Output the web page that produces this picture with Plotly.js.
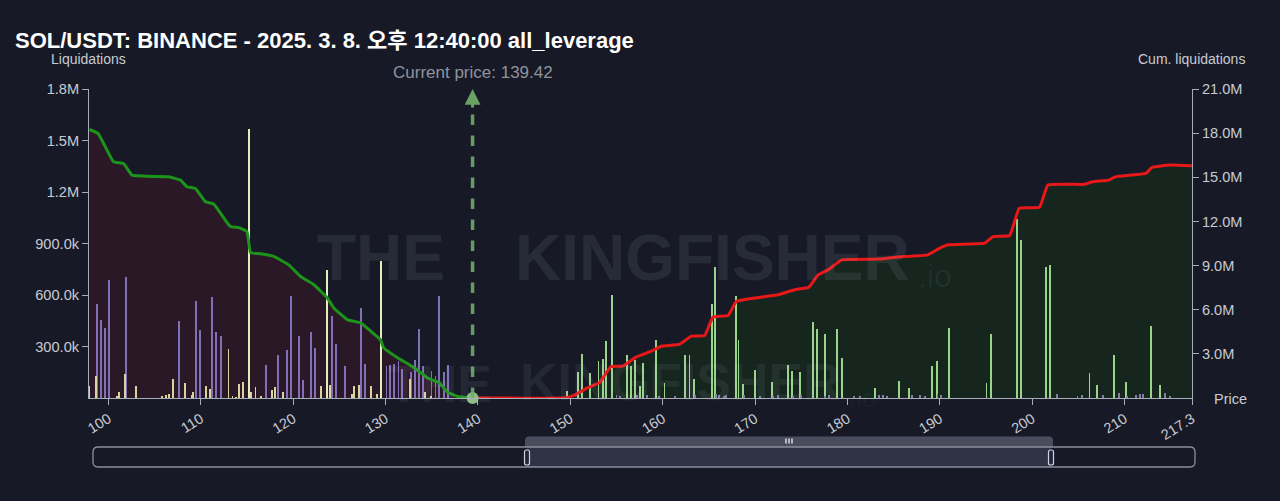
<!DOCTYPE html>
<html>
<head>
<meta charset="utf-8">
<script src="https://cdn.plot.ly/plotly-3.0.1.min.js"></script>
<style>
  html, body { margin: 0; padding: 0; background: #171a26; }
  #chart { width: 1280px; height: 501px; }
</style>
</head>
<body>
<div id="chart"></div>
<script>
// ---------------- DATA ----------------
const chartTitle = "SOL/USDT: BINANCE - 2025. 3. 8. 오후 12:40:00 all_leverage";
const currentPrice = 139.42;

// x-axis ticks
const xTickVals = [100, 110, 120, 130, 140, 150, 160, 170, 180, 190, 200, 210, 217.3];
const xTickText = ["100", "110", "120", "130", "140", "150", "160", "170", "180", "190", "200", "210", "217.3"];
// left axis ticks (Liquidations)
const yLeftTickVals = [300000, 600000, 900000, 1200000, 1500000, 1800000];
const yLeftTickText = ["300.0k", "600.0k", "900.0k", "1.2M", "1.5M", "1.8M"];
// right axis ticks (Cum. liquidations)
const yRightTickVals = [3e6, 6e6, 9e6, 12e6, 15e6, 18e6, 21e6];
const yRightTickText = ["3.0M", "6.0M", "9.0M", "12.0M", "15.0M", "18.0M", "21.0M"];

// Liquidation bars below price (purple)
const purplePrice = [98.75, 99.22, 99.65, 100.09, 101.9, 107.68, 109.49, 109.92, 111.26, 111.69, 112.16, 117.1, 118.4, 119.3, 119.8, 120.6, 121.1, 121.96, 122.4, 124.24, 124.67, 125.57, 127.38, 127.82, 130.1, 130.5, 130.96, 131.4, 131.8, 132.73, 133.16, 133.6, 134.07, 134.98, 135.4, 135.8, 136.3, 136.75];
const purpleLiq = [548e3, 452e3, 405e3, 689e3, 705e3, 446e3, 567e3, 398e3, 588e3, 386e3, 363e3, 192e3, 252e3, 277e3, 592e3, 363e3, 107e3, 382e3, 291e3, 475e3, 312e3, 184e3, 524e3, 200e3, 184e3, 194e3, 198e3, 213e3, 169e3, 149e3, 223e3, 404e3, 188e3, 155e3, 126e3, 592e3, 149e3, 194e3];

// Liquidation bars below price (yellow)
const yellowPrice = [97.95, 98.7, 100.9, 101.17, 101.8, 102.98, 105.8, 106.27, 106.56, 107.0, 108.33, 109.0, 109.2, 110.57, 111.0, 113.0, 113.43, 113.8, 114.14, 114.57, 115.45, 115.92, 116.5, 117.7, 118.07, 118.9, 123.05, 123.95, 126.4, 126.6, 127.1, 128.4, 129.1, 132.66, 134.25, 134.9];
const yellowLiq = [72e3, 126e3, 10e3, 37e3, 140e3, 72e3, 14e3, 20e3, 26e3, 112e3, 87e3, 17e3, 37e3, 68e3, 52e3, 285e3, 14e3, 6e3, 83e3, 93e3, 37e3, 64e3, 12e3, 48e3, 62e3, 35e3, 68e3, 76e3, 25e3, 72e3, 76e3, 72e3, 21e3, 112e3, 35e3, 14e3];

// Liquidation bars below price (pale, tall)
const palePrice = [115.2, 123.7, 129.55];
const paleLiq = [1565e3, 747e3, 796e3];

// Liquidation bars above price (green)
const greenPrice = [149.65, 150.8, 151.25, 152.15, 153.05, 153.5, 153.9, 154.5, 156.1, 156.6, 157.0, 157.5, 157.9, 159.3, 160.2, 162.45, 162.9, 163.35, 165.3, 165.7, 167.97, 168.2, 168.7, 170.0, 171.8, 173.6, 174.0, 174.9, 176.3, 176.7, 177.6, 178.9, 179.4, 183.0, 185.6, 186.7, 189.2, 189.7, 191.0, 195.06, 195.5, 198.35, 198.8, 201.46, 201.9, 206.2, 207.06, 208.87, 210.2, 212.9, 213.8];
const greenLiq = [42e3, 149e3, 256e3, 146e3, 213e3, 227e3, 330e3, 598e3, 252e3, 184e3, 223e3, 72e3, 204e3, 340e3, 87e3, 248e3, 252e3, 112e3, 548e3, 763e3, 592e3, 336e3, 83e3, 161e3, 91e3, 194e3, 155e3, 151e3, 440e3, 404e3, 373e3, 404e3, 233e3, 58e3, 101e3, 56e3, 188e3, 217e3, 408e3, 87e3, 375e3, 1040e3, 922e3, 763e3, 775e3, 146e3, 73e3, 248e3, 91e3, 421e3, 73e3];

// Small liquidation bars above price (grey-violet)
const greyPrice = [155.0, 155.35, 157.2, 158.3, 159.6, 161.3, 163.5, 165.8, 166.1, 166.6, 166.9, 168.8, 170.5, 171.9, 172.5, 174.1, 175.0, 177.6, 178.0, 180.7, 181.4, 183.4, 183.85, 184.3, 187.0, 187.9, 188.4, 189.75, 190.1, 202.7, 204.9, 205.4, 207.7, 209.4, 210.3, 211.2, 211.7, 212.0, 214.4, 214.9];
const greyLiq = [15e3, 12e3, 18e3, 20e3, 14e3, 12e3, 16e3, 22e3, 18e3, 14e3, 20e3, 16e3, 12e3, 14e3, 18e3, 12e3, 16e3, 14e3, 20e3, 12e3, 10e3, 19e3, 15e3, 12e3, 18e3, 15e3, 12e3, 25e3, 16e3, 22e3, 12e3, 18e3, 15e3, 32e3, 14e3, 20e3, 25e3, 25e3, 29e3, 14e3];

// Cumulative liquidations below price (green line)
const cumLongPrice = [97.95, 98.9, 100.55, 101.64, 102.55, 106.52, 107.8, 108.5, 109.4, 110.5, 111.4, 113.2, 114.1, 115.0, 115.38, 116.46, 117.9, 119.53, 120.8, 122.25, 123.7, 124.4, 125.85, 127.3, 128.4, 129.45, 129.8, 131.3, 133.1, 134.5, 135.8, 136.7, 137.8, 139.42];
const cumLong = [18.25e6, 17.97e6, 16.05e6, 15.94e6, 15.15e6, 15.03e6, 14.81e6, 14.36e6, 14.25e6, 13.34e6, 13.18e6, 11.65e6, 11.58e6, 11.31e6, 9.89e6, 9.8e6, 9.62e6, 9.05e6, 8.26e6, 7.7e6, 6.8e6, 6.12e6, 5.33e6, 5.1e6, 4.54e6, 3.97e6, 3.41e6, 2.74e6, 2.06e6, 1.38e6, 1.04e6, 0.41e6, 0.1e6, 0];

// Cumulative liquidations above price (red line)
const cumShortPrice = [139.42, 149.5, 150.45, 151.9, 153.15, 154.4, 155.7, 157.1, 158.76, 159.85, 161.8, 163.1, 164.55, 165.45, 167.08, 167.98, 169.97, 172.5, 174.3, 175.8, 176.85, 177.9, 179.4, 183.5, 185.4, 188.7, 189.8, 190.9, 194.85, 195.76, 197.56, 198.6, 200.8, 201.7, 205.66, 206.55, 208.3, 209.0, 212.3, 212.97, 214.95, 217.3];
const cumShort = [0, 0.02e6, 0.2e6, 0.7e6, 1.04e6, 2.13e6, 2.17e6, 2.78e6, 3.18e6, 3.52e6, 3.64e6, 4.2e6, 4.25e6, 5.51e6, 5.6e6, 6.57e6, 6.8e6, 7.02e6, 7.36e6, 7.52e6, 8.38e6, 8.71e6, 9.39e6, 9.44e6, 9.58e6, 9.73e6, 10.12e6, 10.41e6, 10.52e6, 10.97e6, 11.04e6, 12.9e6, 12.96e6, 14.47e6, 14.52e6, 14.7e6, 14.81e6, 15.03e6, 15.26e6, 15.67e6, 15.83e6, 15.78e6];

// ---------------- LAYOUT HELPERS ----------------
const W = 1280, H = 501;
const M = { l: 89, r: 88, t: 89, b: 103 };
const PW = W - M.l - M.r, PH = H - M.t - M.b;
const PX = px => (px - M.l) / PW;          // pixel -> paper x
const PY = py => (H - M.b - py) / PH;      // pixel -> paper y

function roundRectPath(x0, y0, x1, y1, r, topOnly) {
  const rx = r / PW, ry = r / PH;
  const a = PX(x0), b = PX(x1), top = PY(y0), bot = PY(y1);
  if (topOnly) {
    return `M${a},${bot} L${a},${top - ry} Q${a},${top} ${a + rx},${top} L${b - rx},${top} Q${b},${top} ${b},${top - ry} L${b},${bot} Z`;
  }
  return `M${a + rx},${top} L${b - rx},${top} Q${b},${top} ${b},${top - ry} L${b},${bot + ry} Q${b},${bot} ${b - rx},${bot} L${a + rx},${bot} Q${a},${bot} ${a},${bot + ry} L${a},${top - ry} Q${a},${top} ${a + rx},${top} Z`;
}

const FONT = "Liberation Sans, Arial, Noto Sans CJK KR, sans-serif";
const WMFONT = "Liberation Sans, Arial, sans-serif";
const TXT = "#c8cbd3";
const AXL = "#a9adb8";
const BW = 0.2;

// ---------------- TRACES ----------------
const traces = [
  // fills (primary right axis, drawn first)
  { type: "scatter", mode: "none", x: cumLongPrice, y: cumLong, fill: "tozeroy", fillcolor: "#2a1826", xaxis: "x", yaxis: "y", hoverinfo: "skip" },
  { type: "scatter", mode: "none", x: cumShortPrice, y: cumShort, fill: "tozeroy", fillcolor: "#16261f", xaxis: "x", yaxis: "y", hoverinfo: "skip" },
  // bars (left axis)
  { type: "bar", x: purplePrice, y: purpleLiq, width: BW, marker: { color: "#8070b8", line: { width: 0 } }, xaxis: "x", yaxis: "y2" },
  { type: "bar", x: yellowPrice, y: yellowLiq, width: BW, marker: { color: "#d9d3a0", line: { width: 0 } }, xaxis: "x", yaxis: "y2" },
  { type: "bar", x: palePrice, y: paleLiq, width: BW, marker: { color: "#e2efbc", line: { width: 0 } }, xaxis: "x", yaxis: "y2" },
  { type: "bar", x: greenPrice, y: greenLiq, width: BW, marker: { color: "#9ad48a", line: { width: 0 } }, xaxis: "x", yaxis: "y2" },
  { type: "bar", x: greyPrice, y: greyLiq, width: BW, marker: { color: "#7e7ea6", line: { width: 0 } }, xaxis: "x", yaxis: "y2" },
  // cumulative lines (overlay right axis)
  { type: "scatter", mode: "lines", x: cumLongPrice, y: cumLong, line: { color: "#1c941c", width: 3, shape: "spline", smoothing: 0.3 }, cliponaxis: false, xaxis: "x", yaxis: "y3" },
  { type: "scatter", mode: "lines", x: cumShortPrice, y: cumShort, line: { color: "#e81818", width: 3, shape: "spline", smoothing: 0.3 }, cliponaxis: false, xaxis: "x", yaxis: "y3" },
  // current price dot
  { type: "scatter", mode: "markers", x: [currentPrice], y: [0], marker: { color: "#8cbc86", size: 12 }, cliponaxis: false, xaxis: "x", yaxis: "y3" }
];

// ---------------- SHAPES (range selector decoration & price line) ----------------
const sliderX0 = 93, sliderX1 = 1195, sliderTop = 447, sliderBot = 467;
const selX0 = 527, selX1 = 1051;
const shapes = [
  { type: "line", xref: "x", yref: "paper", x0: currentPrice, x1: currentPrice, y0: 0, y1: PY(104), line: { color: "rgba(112,170,104,0.9)", width: 3.5, dash: "dash" }, layer: "above" },
  { type: "path", xref: "paper", yref: "paper", path: roundRectPath(selX0 - 2, 436.5, selX1 + 2, sliderTop, 4, true), fillcolor: "#4a4d5d", line: { width: 0 } },
  { type: "rect", xref: "paper", yref: "paper", x0: PX(selX0), x1: PX(selX1), y0: PY(sliderBot), y1: PY(sliderTop), fillcolor: "#2f3346", line: { width: 0 } },
  { type: "path", xref: "paper", yref: "paper", path: roundRectPath(sliderX0, sliderTop, sliderX1, sliderBot, 5, false), fillcolor: "rgba(0,0,0,0)", line: { color: "#8a8e9a", width: 1.3 } },
  { type: "path", xref: "paper", yref: "paper", path: roundRectPath(selX0 - 2.5, 450, selX0 + 2.5, 465, 2, false), fillcolor: "#22253a", line: { color: "#d0d3dc", width: 1.2 } },
  { type: "path", xref: "paper", yref: "paper", path: roundRectPath(selX1 - 2.5, 450, selX1 + 2.5, 465, 2, false), fillcolor: "#22253a", line: { color: "#d0d3dc", width: 1.2 } }
];
[786, 789, 792].forEach(gx => shapes.push({ type: "rect", xref: "paper", yref: "paper", x0: PX(gx - 0.6), x1: PX(gx + 0.6), y0: PY(443.5), y1: PY(438.5), fillcolor: "#ffffff", line: { width: 0 } }));

// ---------------- ANNOTATIONS ----------------
const wmColor = "rgba(210,215,235,0.09)";
const wmColor2 = "rgba(210,215,235,0.07)";
const annotations = [
  { xref: "paper", yref: "paper", x: PX(88.5), y: PY(59), text: "Liquidations", showarrow: false, xanchor: "center", yanchor: "middle", font: { family: FONT, size: 14, color: TXT } },
  { xref: "paper", yref: "paper", x: PX(1191.5), y: PY(59), text: "Cum. liquidations", showarrow: false, xanchor: "center", yanchor: "middle", font: { family: FONT, size: 14, color: TXT } },
  { xref: "paper", yref: "paper", x: PX(1230.5), y: PY(399), text: "Price", showarrow: false, xanchor: "center", yanchor: "middle", font: { family: FONT, size: 14.5, color: TXT } },
  { xref: "x", yref: "paper", x: currentPrice, y: PY(72), text: "Current price: " + currentPrice.toFixed(2), showarrow: false, xanchor: "center", yanchor: "middle", font: { family: FONT, size: 17, color: "#8f939e" } },
  { xref: "x", yref: "paper", x: currentPrice, y: PY(89), text: "", showarrow: true, ax: 0, ay: 20, arrowhead: 2, arrowsize: 1.05, arrowwidth: 3, arrowcolor: "rgba(112,170,104,0.95)", standoff: 0 },
  // watermarks
  { xref: "paper", yref: "paper", x: PX(381), y: PY(258), text: "<b>THE</b>", showarrow: false, xanchor: "center", yanchor: "middle", font: { family: WMFONT, size: 64, color: wmColor } },
  { xref: "paper", yref: "paper", x: PX(912), y: PY(258), text: "<b>KINGFISHER</b>", showarrow: false, xanchor: "right", yanchor: "middle", font: { family: WMFONT, size: 64, color: wmColor } },
  { xref: "paper", yref: "paper", x: PX(916), y: PY(276), text: ".io", showarrow: false, xanchor: "left", yanchor: "middle", font: { family: WMFONT, size: 32, color: "rgba(210,215,235,0.06)" } },
  { xref: "paper", yref: "paper", x: PX(440), y: PY(384), text: "<b>THE</b>", showarrow: false, xanchor: "center", yanchor: "middle", font: { family: WMFONT, size: 52, color: wmColor2 } },
  { xref: "paper", yref: "paper", x: PX(843), y: PY(382), text: "<b>KINGFISHER</b>", showarrow: false, xanchor: "right", yanchor: "middle", font: { family: WMFONT, size: 52, color: wmColor2 } },
  { xref: "paper", yref: "paper", x: PX(847), y: PY(398), text: ".io", showarrow: false, xanchor: "left", yanchor: "middle", font: { family: WMFONT, size: 26, color: "rgba(210,215,235,0.05)" } }
];

const axisCommon = {
  showline: true, linecolor: AXL, linewidth: 1, ticks: "outside", ticklen: 6, tickcolor: AXL, tickwidth: 1,
  showgrid: false, zeroline: false, tickfont: { family: FONT, size: 14.6, color: TXT }, fixedrange: true
};

const layout = {
  width: W, height: H,
  margin: M,
  paper_bgcolor: "#171a26",
  plot_bgcolor: "#171a26",
  showlegend: false,
  barmode: "overlay",
  bargap: 0,
  hovermode: false,
  font: { family: FONT, color: TXT },
  title: { text: chartTitle, x: 15 / W, xanchor: "left", xref: "container", y: 1 - 40 / H, yanchor: "middle", yref: "container",
           font: { family: FONT, size: 22, color: "#ffffff", weight: 700 } },
  xaxis: Object.assign({}, axisCommon, { range: [97.9, 217.3], tickvals: xTickVals, ticktext: xTickText, tickangle: -32, tickfont: { family: FONT, size: 14.5, color: TXT } }),
  yaxis: Object.assign({}, axisCommon, { side: "right", range: [0, 21e6], tickvals: yRightTickVals, ticktext: yRightTickText }),
  yaxis2: Object.assign({}, axisCommon, { side: "left", overlaying: "y", range: [0, 1.8e6], tickvals: yLeftTickVals, ticktext: yLeftTickText }),
  yaxis3: { overlaying: "y", side: "right", range: [0, 21e6], visible: false, fixedrange: true },
  shapes: shapes,
  annotations: annotations
};

Plotly.newPlot("chart", traces, layout, { displayModeBar: false, staticPlot: true });
</script>
</body>
</html>
